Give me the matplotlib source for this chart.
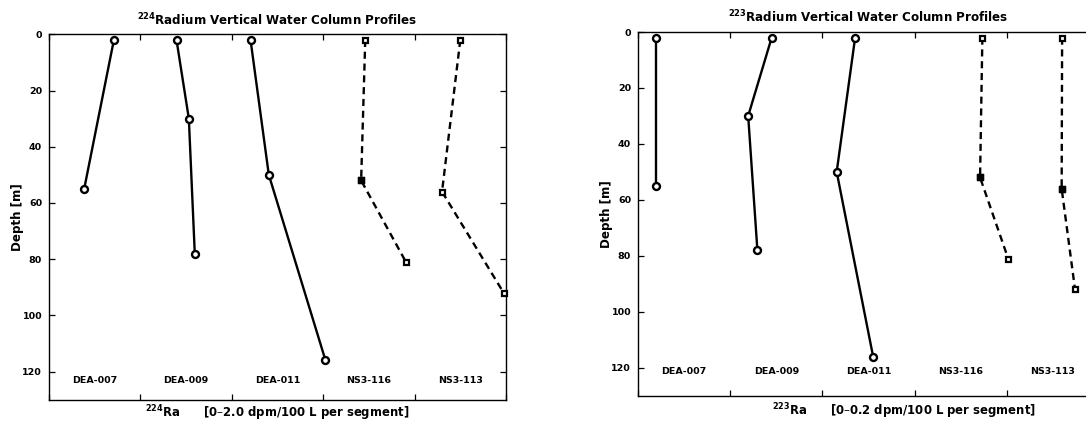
import matplotlib
matplotlib.use("Agg")
import matplotlib.pyplot as plt

# Stations, in left-to-right segment order
stations = ["DEA-007", "DEA-009", "DEA-011", "NS3-116", "NS3-113"]

# Sample depths [m] per station
depth_dea007 = [2, 55]
depth_dea009 = [2, 30, 78]
depth_dea011 = [2, 50, 116]
depth_ns3116 = [2, 52, 81]
depth_ns3113 = [2, 56, 92]

# 224Ra activity [dpm/100 L]
ra224_dea007 = [1.42, 0.77]
ra224_dea009 = [0.79, 1.06, 1.19]
ra224_dea011 = [0.41, 0.81, 2.05]
ra224_ns3116 = [0.92, 0.83, 1.81]
ra224_ns3113 = [1.00, 0.60, 1.95]

# 223Ra activity [dpm/100 L]
ra223_dea007 = [0.040, 0.040]
ra223_dea009 = [0.090, 0.039, 0.059]
ra223_dea011 = [0.071, 0.031, 0.110]
ra223_ns3116 = [0.147, 0.142, 0.203]
ra223_ns3113 = [0.120, 0.119, 0.148]

# Samples drawn with a solid square marker (station, sample index)
ra224_solid = [("NS3-116", 1)]
ra223_solid = [("NS3-116", 1), ("NS3-113", 1)]

ra224_segment = 2.0
ra223_segment = 0.2
depth_ticks = [0, 20, 40, 60, 80, 100, 120]

depths = [depth_dea007, depth_dea009, depth_dea011, depth_ns3116, depth_ns3113]
ra224 = [ra224_dea007, ra224_dea009, ra224_dea011, ra224_ns3116, ra224_ns3113]
ra223 = [ra223_dea007, ra223_dea009, ra223_dea011, ra223_ns3116, ra223_ns3113]

plt.rcParams["font.family"] = ["DejaVu Sans"]
plt.rcParams["font.weight"] = "bold"
plt.rcParams["mathtext.default"] = "regular"

W, H = 1086, 426
fig = plt.figure(figsize=(W / 100, H / 100), dpi=100)


def panel(rect, values, segment, solid, title, label_depth):
    ax = fig.add_axes(rect)
    for i, (name, z, v) in enumerate(zip(stations, depths, values)):
        x = [i * segment + val for val in v]
        if name.startswith("DEA"):
            ax.plot(x, z, color="black", lw=1.7, ls="-", marker="o", ms=5,
                    mew=1.7, mfc="white", mec="black", clip_on=False, zorder=3)
        else:
            ax.plot(x, z, color="black", lw=1.7, ls=(0, (3, 2)), marker="s",
                    ms=3.6, mew=1.6, mfc="white", mec="black", clip_on=False,
                    zorder=3)
            for st, k in solid:
                if st == name:
                    ax.plot([x[k]], [z[k]], ls="none", marker="s", ms=4.4,
                            mfc="black", mec="black", clip_on=False, zorder=4)
        ax.text((i + 0.5) * segment, label_depth, name, ha="center",
                va="center", fontsize=6.8, fontweight="bold")

    ax.set_xlim(0, 5 * segment)
    ax.set_ylim(130, 0)
    ax.set_xticks([k * segment for k in range(6)])
    ax.set_xticklabels([])
    ax.set_yticks(depth_ticks)
    ax.set_yticklabels([str(t) for t in depth_ticks], fontsize=6.8,
                       fontweight="bold")
    ax.tick_params(direction="in", length=4, width=0.9, top=True, right=True,
                   pad=5)
    for s in ax.spines.values():
        s.set_linewidth(1.0)

    ax.text(0.5, 1.0 + 9.5 / (rect[3] * H), title, transform=ax.transAxes,
            ha="center", va="baseline", fontsize=8.6, fontweight="bold")
    ax.text(-32.0 / (rect[2] * W), 0.5, "Depth [m]", transform=ax.transAxes,
            rotation=90, ha="center", va="center", fontsize=8.6,
            fontweight="bold")
    return ax


ax1 = panel([49 / W, 1 - 399.7 / H, 457 / W, 365.4 / H], ra224, ra224_segment,
            ra224_solid, r"$^{224}$Radium Vertical Water Column Profiles", 123)
ax2 = panel([638 / W, 1 - 395.7 / H, 461 / W, 363.7 / H], ra223, ra223_segment,
            ra223_solid, r"$^{223}$Radium Vertical Water Column Profiles", 121.5)

fig.text(277.5 / W, 1 - 417 / H,
         r"$^{224}$Ra      [0–2.0 dpm/100 L per segment]",
         ha="center", va="baseline", fontsize=8.4, fontweight="bold")
fig.text(904 / W, 1 - 415.3 / H,
         r"$^{223}$Ra      [0–0.2 dpm/100 L per segment]",
         ha="center", va="baseline", fontsize=8.4, fontweight="bold")

fig.savefig("out.png", dpi=100)
